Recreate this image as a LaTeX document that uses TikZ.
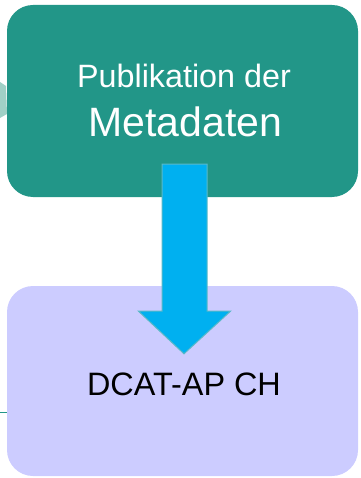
\documentclass[tikz,border=0pt]{standalone}
\usepackage{fontspec}
\setmainfont{Liberation Sans}
\usetikzlibrary{positioning, calc}
\definecolor{pubcolor}{RGB}{34, 150, 136}
\definecolor{dcatcolor}{RGB}{204, 204, 255}
\definecolor{arrowfill}{RGB}{0, 176, 240}
\definecolor{arrowedge}{RGB}{90, 185, 200}
\definecolor{stubcolor}{RGB}{160, 208, 198}
\tikzset{
    % Base box
    basebox/.style={
        draw=none, inner sep=0pt, align=center,
        minimum width=351pt, rounded corners=26pt
    },
    pubbox/.style={basebox, fill=pubcolor, text=white, minimum height=192pt},
    dcatbox/.style={basebox, fill=dcatcolor, text=black, minimum height=190pt},
    % Block arrow
    blockarrow/.style={fill=arrowfill, draw=arrowedge, line width=1pt, line join=miter},
}

\begin{document}
\begin{tikzpicture}[x=1pt, y=-1pt]
\useasboundingbox (0,0) rectangle (360,478);

% ===== Boxes =====
\node (pub) [pubbox] at (182.5, 101) {};
\node (dcat) [dcatbox] at (182.5, 381) {};

% ===== Texts =====
\node (pubtop) [text=white, font=\fontsize{32.3}{32}\selectfont, anchor=base] at (184, 88) {Publikation der};
\node (pubbot) [text=white, font=\fontsize{41}{41}\selectfont, anchor=base] at (185.5, 137) {Metadaten};
\node (dcattext) [font=\fontsize{32.4}{32}\selectfont, anchor=base] at (184, 395) {DCAT-AP CH};

% ===== Block arrow =====
\coordinate (atop) at ($(pub.south)+(2,-33)$);
\coordinate (atip) at ($(dcat.north)+(1.5,68)$);
\draw[blockarrow] ($(atop)+(-22.5,0)$) -- ($(atop)+(22.5,0)$)
    -- ($(atop)+(22.5,147)$) -- ($(atop)+(46,147)$) -- (atip)
    -- ($(atop)+(-46,147)$) -- ($(atop)+(-22.5,147)$) -- cycle;

% ===== Cut-off pieces at left edge =====
\fill[stubcolor] (0,82) -- (6,86) -- (7,114) -- (0,118) -- cycle;
\coordinate (stubline) at (0,412);
\draw[pubcolor, line width=0.8pt] (stubline) -- (dcat.west |- stubline);

\end{tikzpicture}
\end{document}
